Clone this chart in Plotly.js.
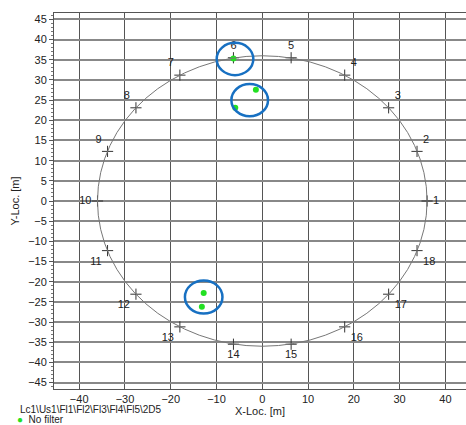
<!DOCTYPE html>
<html>
<head>
<meta charset="utf-8">
<script src="https://cdn.plot.ly/plotly-3.0.1.min.js"></script>
<style>
html,body{margin:0;padding:0;background:#fff;overflow:hidden;}
#chart{width:466px;height:425px;}
</style>
</head>
<body>
<div id="chart"></div>
<script>
// Station points on the ring
const stationLabels = ['1','2','3','4','5','6','7','8','9','10','11','12','13','14','15','16','17','18'];
const stationX = [36, 33.8, 27.6, 18, 6.3, -6.3, -18, -27.6, -33.8, -36, -33.8, -27.6, -18, -6.3, 6.3, 18, 27.6, 33.8];
const stationY = [0, 12.3, 23.1, 31.2, 35.5, 35.5, 31.2, 23.1, 12.3, 0, -12.3, -23.1, -31.2, -35.5, -35.5, -31.2, -23.1, -12.3];
const stationTextPos = ['middle right','top right','top right','top right','top center','top center','top left','top left','top left','middle left','bottom left','bottom left','bottom left','bottom center','bottom center','bottom right','bottom right','bottom right'];

// Ring radius
const ringRadius = 36;

// Located events ("No filter")
const eventX = [-6.3, -1.4, -5.9, -12.8, -13.2];
const eventY = [35.3, 27.6, 23.1, -22.8, -26.2];

// Highlight circles (center x, center y, radius)
const highlightCX = [-5.96, -2.75, -12.8];
const highlightCY = [35.2, 25.0, -23.8];
const highlightR = [4.0, 4.0, 4.1];

const xTickVals = [-40, -30, -20, -10, 0, 10, 20, 30, 40];
const yTickVals = [-45, -40, -35, -30, -25, -20, -15, -10, -5, 0, 5, 10, 15, 20, 25, 30, 35, 40, 45];

const font = {family: 'Liberation Sans, Arial, sans-serif', size: 11, color: '#222'};
const smallFont = {family: 'Liberation Sans, Arial, sans-serif', size: 10, color: '#222'};

const shapes = [{
  type: 'circle', xref: 'x', yref: 'y',
  x0: -ringRadius, x1: ringRadius, y0: -ringRadius, y1: ringRadius,
  line: {color: '#777', width: 1}, layer: 'above'
}];
for (let i = 0; i < highlightCX.length; i++) {
  shapes.push({
    type: 'circle', xref: 'x', yref: 'y',
    x0: highlightCX[i] - highlightR[i], x1: highlightCX[i] + highlightR[i],
    y0: highlightCY[i] - highlightR[i], y1: highlightCY[i] + highlightR[i],
    line: {color: '#1770c2', width: 2.5}, layer: 'above'
  });
}

const traces = [
  {
    x: stationX, y: stationY, text: stationLabels,
    mode: 'markers+text', type: 'scatter',
    textposition: stationTextPos,
    textfont: font,
    marker: {symbol: 'cross-thin-open', size: 8, color: '#333', line: {color: '#333', width: 1}},
    showlegend: false, hoverinfo: 'skip'
  },
  {
    x: eventX, y: eventY, name: 'No filter',
    mode: 'markers', type: 'scatter',
    marker: {color: '#22e022', size: 6},
    showlegend: false
  }
];

const layout = {
  width: 466, height: 425,
  margin: {l: 54, r: 0, t: 13, b: 36},
  paper_bgcolor: '#fff', plot_bgcolor: '#fff',
  font: font,
  showlegend: false,
  xaxis: {
    range: [-45.5, 44.5], tickvals: xTickVals, ticks: '', automargin: false,
    showgrid: true, gridcolor: '#555', gridwidth: 1,
    zeroline: false, showline: true, mirror: true, linecolor: '#555', linewidth: 1,
    tickfont: font,
    title: {text: 'X-Loc. [m]', font: font, standoff: 2}
  },
  yaxis: {
    range: [-46.6, 46.6], tickvals: yTickVals, ticks: 'outside', ticklen: 4, tickcolor: '#555', automargin: false,
    minor: {dtick: 1, ticks: 'outside', ticklen: 2, tickcolor: '#777', showgrid: false},
    showgrid: true, gridcolor: '#888', gridwidth: 2,
    zeroline: false, showline: true, mirror: true, linecolor: '#555', linewidth: 1,
    tickfont: font,
    title: {text: 'Y-Loc. [m]', font: font, standoff: 6}
  },
  shapes: shapes,
  annotations: [
    {
      xref: 'paper', yref: 'paper', x: -0.085, y: -0.054, xanchor: 'left', yanchor: 'middle',
      text: 'Lc1\\Us1\\Fl1\\Fl2\\Fl3\\Fl4\\Fl5\\2D5', showarrow: false, font: smallFont, borderpad: 0
    },
    {
      xref: 'paper', yref: 'paper', x: -0.093, y: -0.080, xanchor: 'left', yanchor: 'middle',
      text: '<span style="color:#22e022">●</span>  No filter', showarrow: false, font: smallFont, borderpad: 0
    }
  ]
};

Plotly.newPlot('chart', traces, layout, {displayModeBar: false, staticPlot: true});
</script>
</body>
</html>
